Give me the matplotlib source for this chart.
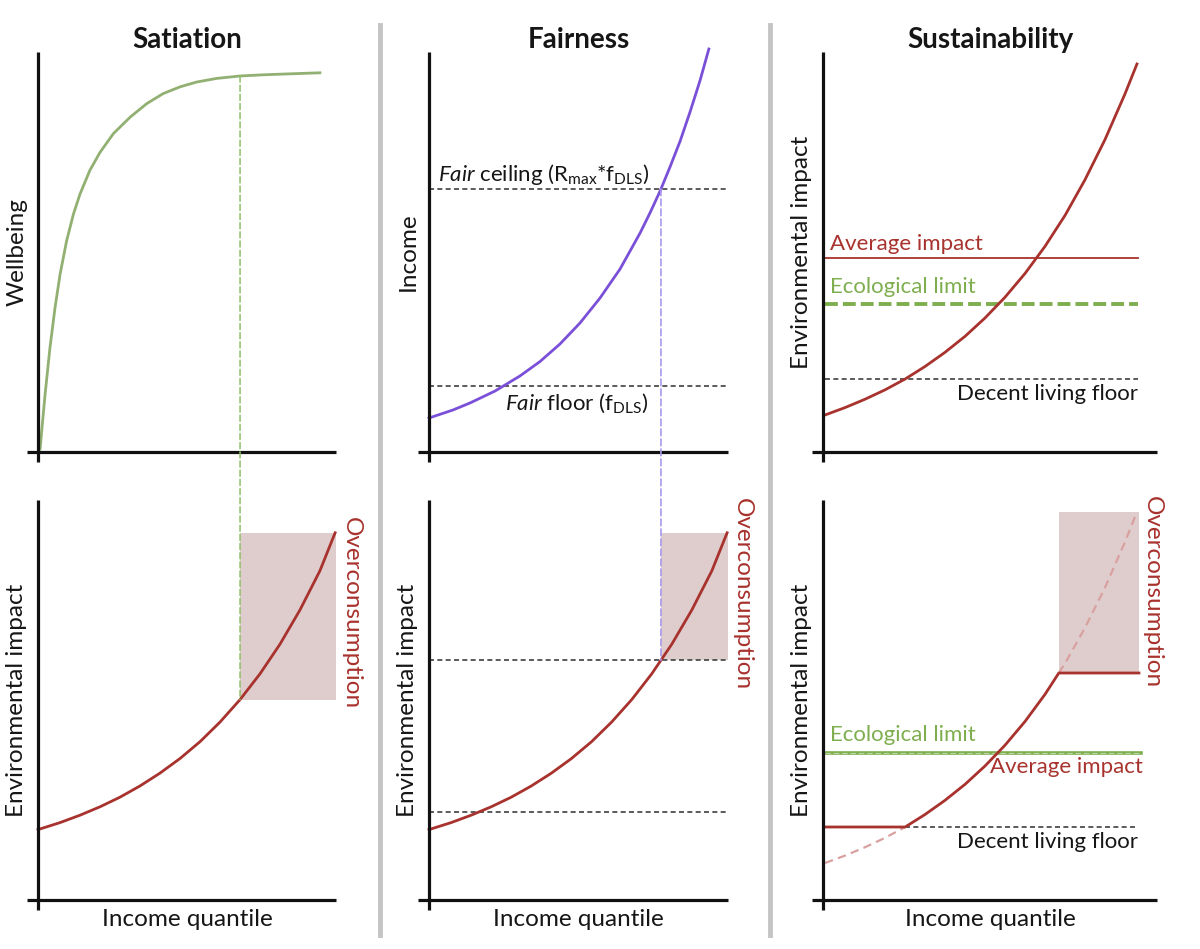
import numpy as np
import matplotlib
matplotlib.use("Agg")
import matplotlib.pyplot as plt
from matplotlib.patches import Rectangle, ConnectionPatch
from matplotlib.lines import Line2D
from matplotlib.transforms import offset_copy

plt.rcParams['font.family'] = ['Lato', 'DejaVu Sans']
plt.rcParams['mathtext.fontset'] = 'custom'
plt.rcParams['mathtext.rm'] = 'Lato'
plt.rcParams['mathtext.it'] = 'Lato:italic'

# --- values (x = income quantile 0-100, y = 0-100) ---
# Satiation: wellbeing curve
sat_x = np.array([0, 0.7, 2.35, 4.0, 5.7, 7.4, 9.6, 11.9, 14.1, 17.4, 20.8, 25.3, 30.9,
                  36.5, 42, 47.7, 53.3, 60, 67.8, 75.6, 86.8, 94.6])
sat_wellbeing = np.array([0, 0.8, 14.2, 26, 36, 44.4, 52.8, 59.5, 64.5, 70.4, 74.9, 79.6, 83.7,
                          87.1, 89.6, 91.3, 92.5, 93.4, 94, 94.3, 94.6, 94.8])
sat_threshold = 67.8

# Environmental impact curve (bottom of Satiation and Fairness)
impact_x = np.array([0, 7.4, 14.1, 20.8, 27.5, 34.2, 40.9, 47.7, 54.4, 61.1, 67.8, 74.5,
                     81.2, 87.9, 94.6, 99.7])
impact_y = np.array([17.6, 19.35, 21.2, 23.3, 25.7, 28.5, 31.7, 35.4, 39.6, 44.5, 50.1, 56.55,
                     63.95, 72.5, 82.3, 91.8])

# Fairness: income curve
fair_x = np.array([0, 8.0, 13.7, 22.1, 30.4, 37.1, 43.8, 50.5, 57.2, 63.9, 70.6, 73.9, 77.3,
                   80.6, 84, 87.3, 90.6, 93.6])
fair_income = np.array([8.5, 10.5, 12.25, 15.25, 19, 22.6, 27, 32.25, 38.5, 45.75, 54.75, 59.75,
                        65.25, 71.25, 77.75, 85, 92.75, 100.75])
fair_ceiling = 65.75
fair_floor = 16.5
fair_impact_floor = 22

# Sustainability: impact curve and levels
sus_x = np.array([0.6, 6.6, 12.6, 18.6, 24.6, 30.5, 36.5, 42.5, 48.5, 54.5, 60.5, 66.5,
                  72.5, 78.4, 84.4, 90.4, 94])
sus_y = np.array([9.25, 11.1, 13.2, 15.55, 18.25, 21.35, 24.9, 28.9, 33.5, 38.7, 44.65, 51.45,
                  59.2, 68, 78.05, 89.5, 97])
sus_average = 48.5
sus_eco_limit = 37
sus_floor = 18.25
sus_eco_limit_b = 36.75
sus_cap = 56.75

RED = '#a8322d'
PINK = '#dfcdcd'
GREEN = '#91b072'
ECO = '#7fae4f'
PURPLE = '#7b50d8'
GREY = '#404040'
INK = '#161616'

W, H = 1200, 949
fig = plt.figure(figsize=(W / 100, H / 100), dpi=100)


def panel(left, right, top, bottom):
    ax = fig.add_axes([left / W, 1 - bottom / H, (right - left) / W, (bottom - top) / H])
    ax.set_xlim(0, 100)
    ax.set_ylim(0, 100)
    ax.axis('off')
    wpx = right - left
    hpx = bottom - top
    ax.plot([0, 0], [-10 / hpx * 100, 100], color='#111111', lw=2.3, clip_on=False,
            solid_capstyle='butt', zorder=5)
    ax.plot([-11 / wpx * 100, 100], [0, 0], color='#111111', lw=2.3, clip_on=False,
            solid_capstyle='butt', zorder=5)
    return ax


def ylab(ax, text):
    ax.text(0, 0.5, text, transform=offset_copy(ax.transAxes, fig=fig, x=-21, y=0, units='dots'),
            rotation=90, ha='center', va='center', fontsize=17.5, color=INK)


def xlab(ax, text):
    ax.text(0.5, 0, text, transform=offset_copy(ax.transAxes, fig=fig, x=0, y=-19, units='dots'),
            ha='center', va='center', fontsize=17.5, color=INK)


def title(ax, text):
    ax.text(0.5, 1, text, transform=offset_copy(ax.transAxes, fig=fig, x=0, y=12, units='dots'),
            ha='center', va='center', fontsize=20, fontweight='bold', color=INK)


def dashed(ax, x0, x1, y, color=GREY, lw=1.2):
    ax.plot([x0, x1], [y, y], color=color, lw=lw, ls=(0, (3, 2)), clip_on=False)


def overcons(ax, x, y):
    ax.text(x, y, 'Overconsumption', rotation=270, ha='center', va='top', fontsize=17.5,
            color=RED, clip_on=False)


# separators
for xs in (380, 770):
    fig.add_artist(Line2D([xs / W, xs / W], [1 - 25 / H, 1 - 935 / H], color='#c4c4c4', lw=3.5))

# ---------------- Satiation ----------------
ax1 = panel(38, 336, 52, 452)
ax1.plot(sat_x, sat_wellbeing, color=GREEN, lw=2, clip_on=False)
title(ax1, 'Satiation')
ylab(ax1, 'Wellbeing')

ax4 = panel(38, 336, 500, 900)
ax4.plot(impact_x, impact_y, color=RED, lw=2, clip_on=False, zorder=3)
sat_imp = np.interp(sat_threshold, impact_x, impact_y)
ax4.add_patch(Rectangle((sat_threshold, sat_imp), 100 - sat_threshold, impact_y[-1] - sat_imp,
                        facecolor=PINK, edgecolor='none', zorder=1))
overcons(ax4, 105.2, 95.8)
ylab(ax4, 'Environmental impact')
xlab(ax4, 'Income quantile')
fig.add_artist(ConnectionPatch(xyA=(sat_threshold, np.interp(sat_threshold, sat_x, sat_wellbeing)),
                               coordsA=ax1.transData, xyB=(sat_threshold, sat_imp), coordsB=ax4.transData,
                               color='#8fbf6a', lw=1.1, ls=(0, (4, 2))))

# ---------------- Fairness ----------------
ax2 = panel(429, 728, 52, 452)
ax2.plot(fair_x, fair_income, color=PURPLE, lw=2, clip_on=False, zorder=3)
dashed(ax2, 0, 100, fair_ceiling)
dashed(ax2, 0, 100, fair_floor)
ax2.text(3, 69.3, r'$\mathit{Fair}$ ceiling (R$_{\mathrm{max}}$*f$_{\mathrm{DLS}}$)',
         ha='left', va='center', fontsize=16, color=INK)
ax2.text(49.5, 12.3, r'$\mathit{Fair}$ floor (f$_{\mathrm{DLS}}$)',
         ha='center', va='center', fontsize=16, color=INK)
title(ax2, 'Fairness')
ylab(ax2, 'Income')

ax5 = panel(429, 728, 500, 900)
ax5.plot(impact_x, impact_y, color=RED, lw=2, clip_on=False, zorder=3)
ceil_x = np.interp(fair_ceiling, fair_income, fair_x)
ceil_imp = np.interp(ceil_x, impact_x, impact_y)
ax5.add_patch(Rectangle((ceil_x, ceil_imp), 100 - ceil_x, impact_y[-1] - ceil_imp,
                        facecolor=PINK, edgecolor='none', zorder=1))
dashed(ax5, 0, 100, ceil_imp)
dashed(ax5, 0, 100, fair_impact_floor)
overcons(ax5, 104.7, 100.5)
ylab(ax5, 'Environmental impact')
xlab(ax5, 'Income quantile')
fig.add_artist(ConnectionPatch(xyA=(ceil_x, fair_ceiling), coordsA=ax2.transData,
                               xyB=(ceil_x, ceil_imp), coordsB=ax5.transData,
                               color='#a898ec', lw=1.2, ls=(0, (4, 2))))

# ---------------- Sustainability ----------------
ax3 = panel(823, 1157, 52, 452)
ax3.plot(sus_x, sus_y, color=RED, lw=2, clip_on=False, zorder=3)
ax3.plot([0.5, 94.3], [sus_average, sus_average], color=RED, lw=1.3)
ax3.plot([0.5, 94.3], [sus_eco_limit, sus_eco_limit], color=ECO, lw=2.8, ls=(0, (3.3, 1.3)))
dashed(ax3, 0.5, 94.3, sus_floor)
ax3.text(2.1, 51.9, 'Average impact', ha='left', va='center', fontsize=16, color=RED)
ax3.text(2.1, 41.3, 'Ecological limit', ha='left', va='center', fontsize=16, color=ECO)
ax3.text(94.3, 14.6, 'Decent living floor', ha='right', va='center', fontsize=16, color=INK)
title(ax3, 'Sustainability')
ylab(ax3, 'Environmental impact')

ax6 = panel(823, 1157, 500, 900)
floor_x = np.interp(sus_floor, sus_y, sus_x)
cap_x = np.interp(sus_cap, sus_y, sus_x)
lo = sus_x < floor_x
hi = sus_x > cap_x
mid = ~lo & ~hi
ax6.plot(np.r_[sus_x[lo], floor_x], np.r_[sus_y[lo], sus_floor], color='#d9a0a0', lw=1.6,
         ls=(0, (3.8, 2.4)), zorder=3)
ax6.plot(np.r_[cap_x, sus_x[hi]], np.r_[sus_cap, sus_y[hi]], color='#d9a0a0', lw=1.6,
         ls=(0, (3.8, 2.4)), zorder=3)
ax6.add_patch(Rectangle((cap_x, sus_cap), 94.6 - cap_x, sus_y[-1] - sus_cap,
                        facecolor=PINK, edgecolor='none', zorder=1))
dashed(ax6, floor_x, 94.3, sus_floor)
ax6.plot([0.5, 95.2], [sus_eco_limit_b, sus_eco_limit_b], color=ECO, lw=2.6, zorder=2)
ax6.plot([0.5, 95.2], [sus_eco_limit_b, sus_eco_limit_b], color='#b9d6a0', lw=0.8,
         ls=(0, (5, 2.5)), zorder=2)
ax6.plot(np.r_[0.5, floor_x, sus_x[mid], cap_x, 94.6],
         np.r_[sus_floor, sus_floor, sus_y[mid], sus_cap, sus_cap], color=RED, lw=2, zorder=4)
ax6.text(2.1, 41.2, 'Ecological limit', ha='left', va='center', fontsize=16, color=ECO)
ax6.text(95.8, 33.3, 'Average impact', ha='right', va='center', fontsize=16, color=RED)
ax6.text(94.3, 14.6, 'Decent living floor', ha='right', va='center', fontsize=16, color=INK)
overcons(ax6, 98.5, 101)
ylab(ax6, 'Environmental impact')
xlab(ax6, 'Income quantile')

fig.savefig('out.png', dpi=100)
